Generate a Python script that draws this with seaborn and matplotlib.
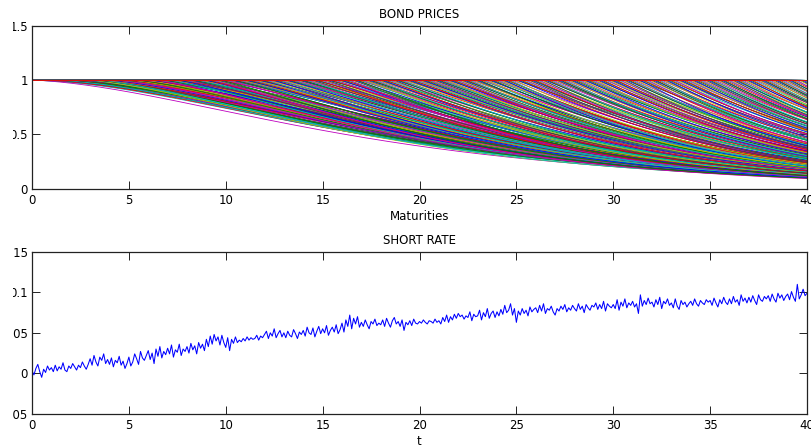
import numpy as np
import pandas as pd
import matplotlib
matplotlib.use("Agg")
import matplotlib.pyplot as plt
import seaborn as sns
from matplotlib.patches import Rectangle

# ---- data ----
# short rate (in thousandths), sampled every 0.1 time unit, t = 0 .. 40
short_rate_milli = [
    3, -2, 6, 11, 2, -5, 5, 1, 9, 4,
    7, 2, 10, 3, 8, 5, 13, 4, 2, 9,
    6, 12, 8, 4, 10, 7, 14, 9, 5, 11,
    18, 10, 22, 14, 9, 20, 16, 24, 12, 17,
    11, 19, 8, 16, 13, 21, 10, 15, 6, 12,
    20, 9, 14, 24, 18, 11, 27, 19, 16, 22,
    28, 17, 25, 12, 30, 21, 33, 19, 27, 23,
    31, 24, 35, 20, 29, 26, 36, 22, 30, 27,
    33, 25, 37, 29, 34, 24, 38, 31, 36, 28,
    42, 33, 46, 36, 48, 40, 45, 35, 47, 38,
    32, 44, 28, 42, 37, 45, 38, 41, 39, 43,
    40, 45, 41, 44, 42, 43, 47, 41, 46, 44,
    48, 52, 43, 50, 46, 55, 44, 49, 53, 45,
    50, 44, 52, 47, 45, 54, 49, 43, 51, 48,
    53, 46, 57, 50, 48, 56, 45, 52, 58, 49,
    55, 50, 59, 47, 53, 57, 51, 60, 49, 54,
    62, 51, 66, 58, 72, 55, 68, 61, 70, 57,
    63, 58, 66, 60, 55, 64, 61, 67, 59, 62,
    60, 66, 58, 68, 62, 57, 65, 69, 61, 64,
    58, 66, 53, 63, 60, 65, 59, 67, 62, 61,
    64, 62, 66, 63, 61, 65, 64, 62, 67, 63,
    65, 61, 69, 64, 72, 63, 70, 66, 73, 68,
    74, 70, 72, 67, 71, 69, 76, 65, 73, 70,
    71, 78, 66, 75, 70, 80, 68, 74, 77, 69,
    76, 71, 79, 73, 84, 75, 78, 86, 72, 80,
    63, 77, 72, 80, 74, 78, 71, 82, 76, 79,
    81, 75, 84, 77, 86, 74, 80, 78, 83, 76,
    72, 80, 77, 83, 79, 85, 76, 81, 78, 84,
    80, 77, 86, 79, 83, 75, 85, 81, 78, 84,
    82, 87, 79, 85, 80, 89, 77, 86, 83, 81,
    85, 80, 91, 78, 88, 83, 92, 81, 87, 84,
    89, 82, 86, 74, 97, 83, 90, 85, 93, 86,
    88, 82, 91, 85, 94, 80, 89, 86, 92, 84,
    87, 81, 92, 83, 79, 90, 85, 88, 82, 86,
    89, 84, 92, 86, 83, 90, 87, 85, 91, 88,
    90, 84, 93, 87, 82, 91, 86, 94, 88, 85,
    92, 86, 95, 88, 91, 84, 97, 89, 93, 87,
    94, 88, 96, 90, 85, 97, 91, 89, 95, 92,
    96, 89, 98, 92, 88, 99, 93, 97, 90, 95,
    98, 91, 101, 94, 89, 110, 92, 97, 104, 96,
    99,
]
time_step = 0.1

# mean-reversion parameters estimated from the shapes of the bond-price curves
kappa = 0.032
theta = 0.215
sigma = 0.0198

x_ticks = [0, 5, 10, 15, 20, 25, 30, 35, 40]
bond_yticks = [0, 0.5, 1, 1.5]
bond_ylabels = ["0", "0.5", "1", "1.5"]
rate_yticks = [-0.05, 0, 0.05, 0.1, 0.15]
rate_ylabels = ["-0.05", "0", "0.05", "0.1", "0.15"]

matlab_colors = [(0, 0, 1), (0, 0.5, 0), (1, 0, 0), (0, 0.75, 0.75),
                 (0.75, 0, 0.75), (0.75, 0.75, 0), (0.25, 0.25, 0.25)]

# ---- derived tables ----
r = np.array(short_rate_milli, dtype=float) / 1000.0
t = np.arange(len(r)) * time_step
maturities = t.copy()

frames = []
for k, (tk, rk) in enumerate(zip(t, r)):
    tau = np.clip(maturities - tk, 0.0, None)
    B = (1.0 - np.exp(-kappa * tau)) / kappa
    lnA = (theta - sigma**2 / (2 * kappa**2)) * (B - tau) - sigma**2 * B**2 / (4 * kappa)
    P = np.exp(lnA - B * rk)
    frames.append(pd.DataFrame({"curve": f"c{k}", "T": maturities, "P": P}))
bonds = pd.concat(frames, ignore_index=True)
curve_order = [f"c{k}" for k in range(len(t))]

# the lowest curve of the bundle is drawn magenta in the reference
lowest = bonds[bonds["T"] == maturities[-1]].sort_values("P")["curve"].iloc[0]
offset = (4 - curve_order.index(lowest)) % len(matlab_colors)
palette = {c: matlab_colors[(k + offset) % len(matlab_colors)] for k, c in enumerate(curve_order)}

rate_df = pd.DataFrame({"t": t, "r": r})

# ---- figure ----
sns.set_style("ticks")
plt.rcParams["font.family"] = ["DejaVu Sans"]
plt.rcParams["text.color"] = "black"
plt.rcParams["axes.labelcolor"] = "black"

fig = plt.figure(figsize=(8.11, 4.48), dpi=100)
W, H = 811.0, 448.0
ax1 = fig.add_axes([32 / W, 1 - 188.7 / H, (807 - 32) / W, (188.7 - 26) / H])
ax2 = fig.add_axes([32 / W, 1 - 413.7 / H, (807 - 32) / W, (413.7 - 252) / H])

sns.lineplot(data=bonds, x="T", y="P", hue="curve", hue_order=curve_order,
             palette=palette, estimator=None, sort=False, legend=False,
             linewidth=0.6, ax=ax1)
sns.lineplot(data=rate_df, x="t", y="r", color=(0, 0, 1), linewidth=0.75,
             estimator=None, sort=False, ax=ax2)

FS = 8.5
for ax, yt, yl in [(ax1, bond_yticks, bond_ylabels), (ax2, rate_yticks, rate_ylabels)]:
    ax.set_xlim(0, 40)
    ax.set_ylim(yt[0], yt[-1])
    ax.set_xticks(x_ticks)
    ax.set_xticklabels([str(v) for v in x_ticks])
    ax.set_yticks(yt)
    ax.set_yticklabels(yl)
    ax.tick_params(direction="in", length=5.5, width=0.7, top=True, right=True,
                   labelsize=FS, colors="#222222", labelcolor="black")
    ax.tick_params(axis="x", pad=4)
    ax.tick_params(axis="y", pad=3)
    for s in ax.spines.values():
        s.set_linewidth(0.9)
        s.set_color("#222222")

ax1.set_title("BOND PRICES", fontsize=FS, pad=6, color="black")
ax1.set_xlabel("Maturities", fontsize=FS, labelpad=2, color="black")
ax1.set_ylabel("")
ax2.set_title("SHORT RATE", fontsize=FS, pad=5.5, color="black")
ax2.set_xlabel("t", fontsize=FS, labelpad=2, color="black")
ax2.set_ylabel("")

# the reference image is cropped on its left edge
fig.patches.append(Rectangle((0, 0), 13 / W, 1, transform=fig.transFigure,
                             facecolor="white", edgecolor="none", zorder=10))

fig.savefig("out.png", dpi=100, facecolor="white")
